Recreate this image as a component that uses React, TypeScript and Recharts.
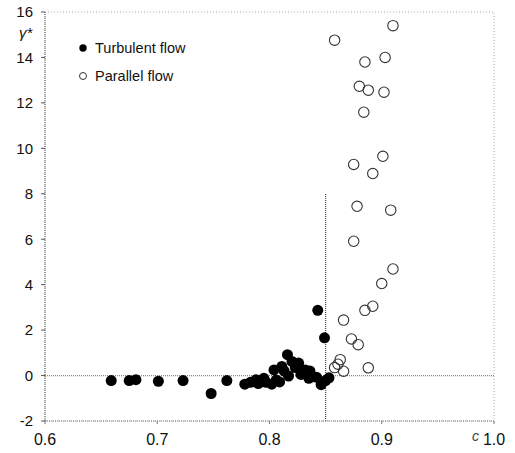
import React from "react";
import {
  ScatterChart,
  Scatter,
  XAxis,
  YAxis,
  ReferenceLine,
  ReferenceArea,
} from "recharts";

const xTicks = [0.6, 0.7, 0.8, 0.9, 1.0];
const yTicks = [-2, 0, 2, 4, 6, 8, 10, 12, 14, 16];
const legendLabels = ["Turbulent flow", "Parallel flow"];

const turbulentC = [
  0.659, 0.675, 0.681, 0.701, 0.723, 0.748, 0.762, 0.778, 0.783, 0.788, 0.79,
  0.795, 0.797, 0.802, 0.804, 0.806, 0.809, 0.811, 0.813, 0.816, 0.817, 0.82,
  0.823, 0.826, 0.828, 0.832, 0.836, 0.835, 0.842, 0.843, 0.846, 0.849, 0.85,
  0.853,
];
const turbulentG = [
  -0.22, -0.22, -0.18, -0.25, -0.22, -0.79, -0.22, -0.38, -0.3, -0.18, -0.35,
  -0.12, -0.3, -0.38, 0.25, -0.2, -0.28, 0.4, 0.2, 0.92, -0.02, 0.62, 0.35,
  0.55, 0.05, 0.25, 0.2, -0.12, -0.08, 2.87, -0.4, 1.66, -0.22, -0.1,
];

const parallelC = [
  0.91, 0.858, 0.903, 0.885, 0.88, 0.888, 0.902, 0.884, 0.901, 0.875, 0.892,
  0.878, 0.908, 0.875, 0.91, 0.9, 0.892, 0.885, 0.866, 0.873, 0.879, 0.863,
  0.888, 0.866, 0.858, 0.861,
];
const parallelG = [
  15.4, 14.76, 14.0, 13.8, 12.73, 12.56, 12.47, 11.59, 9.65, 9.29, 8.89, 7.45,
  7.28, 5.91, 4.69, 4.05, 3.05, 2.87, 2.44, 1.61, 1.36, 0.7, 0.34, 0.19, 0.35,
  0.5,
];

const turbulent = turbulentC.map((c, i) => ({ c, g: turbulentG[i] }));
const parallel = parallelC.map((c, i) => ({ c, g: parallelG[i] }));

const FONT = "'Liberation Sans', Arial, sans-serif";

const FilledDot = (props: any) => (
  <circle cx={props.cx} cy={props.cy} r={5.5} fill="#000" />
);
const OpenDot = (props: any) => (
  <circle
    cx={props.cx}
    cy={props.cy}
    r={5.2}
    fill="none"
    stroke="#333"
    strokeWidth={1.1}
  />
);

const LegendBox = () => (
  <div
    style={{
      position: "absolute",
      left: 78,
      top: 34,
      fontFamily: FONT,
      fontSize: 14.5,
      color: "#111",
      lineHeight: "28px",
    }}
  >
    <div style={{ display: "flex", alignItems: "center" }}>
      <svg width={10} height={10} style={{ marginRight: 7 }}>
        <circle cx={5} cy={5} r={3.7} fill="#000" />
      </svg>
      {legendLabels[0]}
    </div>
    <div style={{ display: "flex", alignItems: "center" }}>
      <svg width={10} height={10} style={{ marginRight: 7 }}>
        <circle cx={5} cy={5} r={3.5} fill="none" stroke="#333" strokeWidth={1} />
      </svg>
      {legendLabels[1]}
    </div>
  </div>
);

export default function App() {
  return (
    <div style={{ position: "absolute", left: 0, top: 0, background: "#fff" }}>
      <ScatterChart
        width={515}
        height={453}
        margin={{ top: 12, right: 21, bottom: 0, left: 0 }}
      >
        <XAxis
          type="number"
          dataKey="c"
          domain={[0.6, 1.0]}
          ticks={xTicks}
          tickFormatter={(v: number) => v.toFixed(1)}
          height={32}
          tickSize={3}
          tickMargin={10}
          axisLine={{ stroke: "#777", strokeDasharray: "1 1" }}
          tickLine={{ stroke: "#777" }}
          tick={{ fill: "#111", fontSize: 16, fontFamily: FONT }}
          allowDataOverflow
          label={(p: any) => {
            const vb = p.viewBox;
            return (
              <text
                x={vb.x + vb.width - 22}
                y={vb.y + 20}
                fontSize={14}
                fontStyle="italic"
                fontFamily={FONT}
                fill="#444"
              >
                c
              </text>
            );
          }}
        />
        <YAxis
          type="number"
          dataKey="g"
          domain={[-2, 16]}
          ticks={yTicks}
          width={45}
          tickSize={4}
          tickMargin={8}
          axisLine={{ stroke: "#555", strokeDasharray: "1 1" }}
          tickLine={{ stroke: "#555" }}
          tick={{ fill: "#111", fontSize: 15, fontFamily: FONT }}
          allowDataOverflow
          label={(p: any) => {
            const vb = p.viewBox;
            return (
              <text
                x={vb.x + 19}
                y={vb.y + 26}
                fontSize={15}
                fontStyle="italic"
                fontFamily={FONT}
                fill="#111"
              >
                γ*
              </text>
            );
          }}
        />
        <ReferenceArea
          x1={0.6}
          x2={1.0}
          y1={-2}
          y2={16}
          fill="none"
          stroke="#aaa"
          strokeDasharray="1 2"
          ifOverflow="visible"
        />
        <ReferenceLine y={0} stroke="#888" strokeDasharray="1 1" strokeWidth={1.2} />
        <ReferenceLine
          segment={[
            { x: 0.85, y: -2 },
            { x: 0.85, y: 8 },
          ]}
          stroke="#444"
          strokeDasharray="1 1"
          strokeWidth={1.2}
        />
        <Scatter
          name="Parallel flow"
          data={parallel}
          shape={<OpenDot />}
          isAnimationActive={false}
        />
        <Scatter
          name="Turbulent flow"
          data={turbulent}
          shape={<FilledDot />}
          isAnimationActive={false}
        />
      </ScatterChart>
      <LegendBox />
    </div>
  );
}
